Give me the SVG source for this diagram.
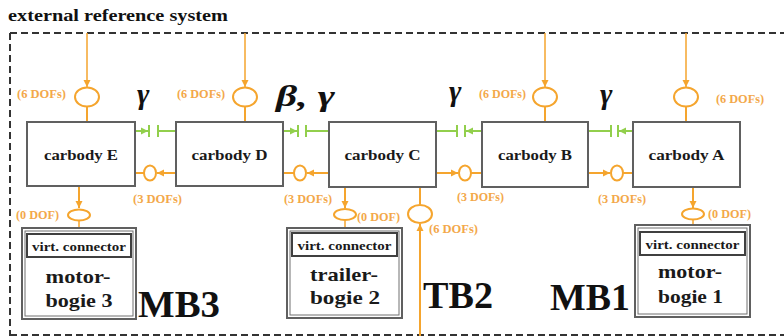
<svg xmlns="http://www.w3.org/2000/svg" width="784" height="336" viewBox="0 0 784 336">
<style>
.box{fill:#fff;stroke:#606060;stroke-width:2}
.in{fill:none;stroke:#707070;stroke-width:1}
.vbox{fill:#fff;stroke:#404040;stroke-width:2}
.o{stroke:#F5A52E;stroke-width:2;fill:none}
.ot{stroke:#F5A52E;stroke-width:1.5;fill:none}
.g{stroke:#92CF4C;stroke-width:2;fill:none}
.el{fill:#fff;stroke:#F5A52E;stroke-width:2}
.lbl{font-family:"Liberation Serif",serif;font-weight:bold;font-size:12px;fill:#F3A84A}
.cb{font-family:"Liberation Serif",serif;font-weight:bold;font-size:14px;fill:#1a1a1a;text-anchor:middle}
.vc{font-family:"Liberation Serif",serif;font-weight:bold;font-size:12px;fill:#1a1a1a;text-anchor:middle}
.bg{font-family:"Liberation Serif",serif;font-weight:bold;font-size:19px;fill:#1a1a1a;text-anchor:middle}
.big{font-family:"Liberation Serif",serif;font-weight:bold;font-size:38px;fill:#111}
.gr{font-family:"Liberation Serif",serif;font-weight:bold;font-style:italic;font-size:30px;fill:#111}
</style>
<defs>
<marker id="ao" markerUnits="userSpaceOnUse" markerWidth="8" markerHeight="8" refX="7" refY="4" orient="auto"><path d="M0,0.5 L7,4 L0,7.5 z" fill="#F5A52E"/></marker>
<marker id="ag" markerUnits="userSpaceOnUse" markerWidth="8" markerHeight="8" refX="7" refY="4" orient="auto"><path d="M0,0.5 L7,4 L0,7.5 z" fill="#92CF4C"/></marker>
</defs>

<text x="8" y="21" font-family="Liberation Serif, serif" font-weight="bold" font-size="17" fill="#111" textLength="220" lengthAdjust="spacingAndGlyphs">external reference system</text>
<g id="frame" fill="none" stroke="#333" stroke-width="2" stroke-dasharray="7,4">
<path d="M10,33 H784"/>
<path d="M10,33 V336"/>
<path d="M10,335 H784"/>
</g>

<g id="connectors">
<path class="ot" d="M87,33 V87" marker-end="url(#ao)"/><ellipse class="el" cx="87" cy="97" rx="12" ry="9.5"/><path class="o" d="M87,106.5 V122"/>
<path class="ot" d="M245,33 V87" marker-end="url(#ao)"/><ellipse class="el" cx="245" cy="97" rx="12" ry="9.5"/><path class="o" d="M245,106.5 V122"/>
<path class="ot" d="M545,33 V87" marker-end="url(#ao)"/><ellipse class="el" cx="545" cy="97" rx="12" ry="9.5"/><path class="o" d="M545,106.5 V122"/>
<path class="ot" d="M686,33 V87" marker-end="url(#ao)"/><ellipse class="el" cx="686" cy="97" rx="12" ry="9.5"/><path class="o" d="M686,106.5 V122"/>
<path class="g" d="M135,131 H148" marker-end="url(#ag)"/><path class="g" d="M149,125 V137 M158,125 V137 M158,131 H176"/>
<path class="g" d="M283,131 H297" marker-end="url(#ag)"/><path class="g" d="M298,125 V137 M306,125 V137 M306,131 H329"/>
<path class="g" d="M436,131 H457 M457,125 V137 M465,125 V137"/><path class="g" d="M482,131 H466" marker-end="url(#ag)"/>
<path class="g" d="M588,131 H611 M611,125 V137 M618,125 V137"/><path class="g" d="M633,131 H619" marker-end="url(#ag)"/>
<path class="o" d="M135,173 H144"/><ellipse class="el" cx="150" cy="173" rx="6" ry="7.5"/><path class="o" d="M176,173 H157" marker-end="url(#ao)"/>
<path class="o" d="M283,173 H294"/><ellipse class="el" cx="300" cy="173" rx="6" ry="7.5"/><path class="o" d="M329,173 H307" marker-end="url(#ao)"/>
<path class="o" d="M436,173 H458" marker-end="url(#ao)"/><ellipse class="el" cx="465" cy="173" rx="6" ry="7.5"/><path class="o" d="M471,173 H482"/>
<path class="o" d="M588,173 H610" marker-end="url(#ao)"/><ellipse class="el" cx="617" cy="173" rx="6" ry="7.5"/><path class="o" d="M623,173 H633"/>
<path class="o" d="M79,187 V208" marker-end="url(#ao)"/><ellipse class="el" cx="79" cy="215" rx="11" ry="5.5"/><path class="ot" d="M79,220.5 V228" stroke="#B07828"/>
<path class="o" d="M345,187 V208" marker-end="url(#ao)"/><ellipse class="el" cx="345" cy="214.5" rx="11" ry="5.5"/><path class="ot" d="M345,220 V228" stroke="#B07828"/>
<path class="o" d="M693,187 V208" marker-end="url(#ao)"/><ellipse class="el" cx="693" cy="214" rx="11" ry="5.5"/><path class="ot" d="M693,219.5 V225" stroke="#B07828"/>
<path class="o" d="M420,187 V204.5"/><ellipse class="el" cx="420" cy="214" rx="12" ry="9"/><path class="o" d="M420,336 V224" marker-end="url(#ao)"/>
<text class="lbl" x="17" y="98" textLength="49" lengthAdjust="spacingAndGlyphs">(6 DOFs)</text>
<text class="lbl" x="177" y="98" textLength="48" lengthAdjust="spacingAndGlyphs">(6 DOFs)</text>
<text class="lbl" x="479" y="98" textLength="47" lengthAdjust="spacingAndGlyphs">(6 DOFs)</text>
<text class="lbl" x="716" y="103" textLength="48" lengthAdjust="spacingAndGlyphs">(6 DOFs)</text>
<text class="lbl" x="133" y="203" textLength="49" lengthAdjust="spacingAndGlyphs">(3 DOFs)</text>
<text class="lbl" x="284" y="203" textLength="48" lengthAdjust="spacingAndGlyphs">(3 DOFs)</text>
<text class="lbl" x="457" y="201" textLength="47" lengthAdjust="spacingAndGlyphs">(3 DOFs)</text>
<text class="lbl" x="598" y="203" textLength="48" lengthAdjust="spacingAndGlyphs">(3 DOFs)</text>
<text class="lbl" x="16" y="219" textLength="43" lengthAdjust="spacingAndGlyphs">(0 DOF)</text>
<text class="lbl" x="357" y="221" textLength="43" lengthAdjust="spacingAndGlyphs">(0 DOF)</text>
<text class="lbl" x="708" y="218" textLength="43" lengthAdjust="spacingAndGlyphs">(0 DOF)</text>
<text class="lbl" x="429" y="233" textLength="49" lengthAdjust="spacingAndGlyphs">(6 DOFs)</text>
<text class="gr" x="137" y="104">γ</text>
<text class="gr" x="276" y="106" textLength="59" lengthAdjust="spacingAndGlyphs">β, γ</text>
<text class="gr" x="449" y="101">γ</text>
<text class="gr" x="600" y="104">γ</text>
</g>

<g id="carbodyE"><rect class="box" x="27" y="122" width="108" height="64"/><text class="cb" x="81" y="160" textLength="74" lengthAdjust="spacingAndGlyphs">carbody E</text></g>
<g id="carbodyD"><rect class="box" x="176" y="122" width="107" height="64"/><text class="cb" x="229.5" y="160" textLength="76" lengthAdjust="spacingAndGlyphs">carbody D</text></g>
<g id="carbodyC"><rect class="box" x="329" y="122" width="107" height="65"/><text class="cb" x="382.5" y="160" textLength="76" lengthAdjust="spacingAndGlyphs">carbody C</text></g>
<g id="carbodyB"><rect class="box" x="482" y="122" width="106" height="65"/><text class="cb" x="535" y="160" textLength="74" lengthAdjust="spacingAndGlyphs">carbody B</text></g>
<g id="carbodyA"><rect class="box" x="633" y="122" width="107" height="65"/><text class="cb" x="686.5" y="160" textLength="76" lengthAdjust="spacingAndGlyphs">carbody A</text></g>

<g id="motorbogie3">
<rect class="box" x="22" y="228" width="114" height="91" stroke-width="1.5"/><rect class="in" x="25" y="231" width="108" height="85"/>
<rect class="vbox" x="27" y="234" width="104" height="23"/>
<text class="vc" x="79" y="251" textLength="94" lengthAdjust="spacingAndGlyphs">virt. connector</text>
<text class="bg" x="78" y="283" textLength="65" lengthAdjust="spacingAndGlyphs">motor-</text>
<text class="bg" x="79" y="307" textLength="67" lengthAdjust="spacingAndGlyphs">bogie 3</text>
</g>
<g id="trailerbogie2">
<rect class="box" x="287" y="228" width="115" height="90" stroke-width="1.5"/><rect class="in" x="290" y="231" width="109" height="84"/>
<rect class="vbox" x="292" y="233" width="105" height="23"/>
<text class="vc" x="344.5" y="250" textLength="94" lengthAdjust="spacingAndGlyphs">virt. connector</text>
<text class="bg" x="344" y="281" textLength="68" lengthAdjust="spacingAndGlyphs">trailer-</text>
<text class="bg" x="345" y="304" textLength="70" lengthAdjust="spacingAndGlyphs">bogie 2</text>
</g>
<g id="motorbogie1">
<rect class="box" x="635" y="225" width="115" height="92" stroke-width="1.5"/><rect class="in" x="638" y="228" width="109" height="86"/>
<rect class="vbox" x="640" y="232" width="105" height="23"/>
<text class="vc" x="692.5" y="249" textLength="94" lengthAdjust="spacingAndGlyphs">virt. connector</text>
<text class="bg" x="690" y="278" textLength="64" lengthAdjust="spacingAndGlyphs">motor-</text>
<text class="bg" x="690.5" y="303" textLength="65" lengthAdjust="spacingAndGlyphs">bogie 1</text>
</g>

<text class="big" x="138" y="317" textLength="82" lengthAdjust="spacingAndGlyphs">MB3</text>
<text class="big" x="423" y="308" textLength="70" lengthAdjust="spacingAndGlyphs">TB2</text>
<text class="big" x="550" y="310" textLength="80" lengthAdjust="spacingAndGlyphs">MB1</text>
</svg>
